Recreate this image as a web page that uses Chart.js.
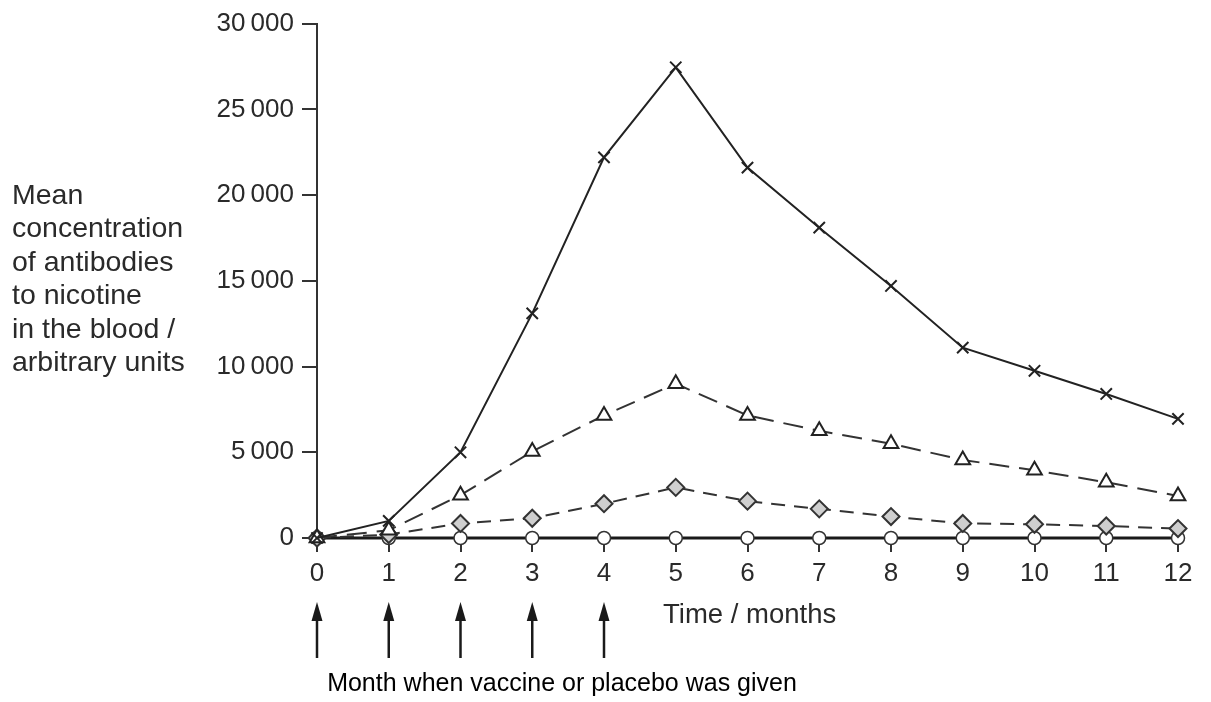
<!DOCTYPE html>
<html>
<head>
<meta charset="utf-8">
<script src="https://cdn.jsdelivr.net/npm/chart.js@4.4.0/dist/chart.umd.min.js"></script>
<style>
  html, body { margin: 0; padding: 0; background: #fff; }
  #wrap { width: 1211px; height: 702px; }
</style>
</head>
<body>
<div id="wrap"><canvas id="myChart" width="1211" height="702"></canvas></div>
<script>
var months = [0, 1, 2, 3, 4, 5, 6, 7, 8, 9, 10, 11, 12];
var crossValues = [0, 1000, 5000, 13100, 22200, 27450, 21600, 18100, 14700, 11100, 9750, 8400, 6950];
var triangleValues = [0, 450, 2500, 5050, 7150, 9000, 7150, 6250, 5500, 4550, 3950, 3250, 2450];
var diamondValues = [0, 200, 850, 1150, 2000, 2950, 2150, 1700, 1250, 850, 800, 700, 550];
var circleValues = [0, 0, 0, 0, 0, 0, 0, 0, 0, 0, 0, 0, 0];
var yTicks = [0, 5000, 10000, 15000, 20000, 25000, 30000];
var vaccineMonths = [0, 1, 2, 3, 4];
var yTitleLines = ['Mean', 'concentration', 'of antibodies', 'to nicotine', 'in the blood /', 'arbitrary units'];

function points(vals) {
    var out = [];
    for (var i = 0; i < months.length; i++) {
        out.push({x: months[i], y: vals[i]});
    }
    return out;
}

function fmt(v) {
    if (v < 1000) return String(v);
    var s = String(v);
    return s.slice(0, s.length - 3) + '\u2009' + s.slice(s.length - 3);
}

// arrows, axis titles and the caption under the chart
var extras = {
    id: 'extras',
    afterDraw: function (chart) {
        var ctx = chart.ctx;
        var xs = chart.scales.x;
        ctx.save();
        ctx.fillStyle = '#2a2a2a';
        ctx.font = '28.5px "Liberation Sans", Arial, sans-serif';
        ctx.textAlign = 'left';
        ctx.textBaseline = 'alphabetic';
        for (var i = 0; i < yTitleLines.length; i++) {
            ctx.fillText(yTitleLines[i], 12, 204 + i * 33.4);
        }

        ctx.font = '27.5px "Liberation Sans", Arial, sans-serif';
        ctx.textBaseline = 'middle';
        ctx.fillText('Time / months', 663, 615);

        ctx.fillStyle = '#000';
        ctx.font = '25px "Liberation Sans", Arial, sans-serif';
        ctx.textAlign = 'center';
        ctx.fillText('Month when vaccine or placebo was given', 562, 684);

        ctx.strokeStyle = '#1a1a1a';
        ctx.fillStyle = '#1a1a1a';
        ctx.lineWidth = 2.5;
        for (var j = 0; j < vaccineMonths.length; j++) {
            var px = xs.getPixelForValue(vaccineMonths[j]);
            ctx.beginPath();
            ctx.moveTo(px, 612);
            ctx.lineTo(px, 658);
            ctx.stroke();
            ctx.beginPath();
            ctx.moveTo(px, 602);
            ctx.lineTo(px - 5.5, 621);
            ctx.lineTo(px + 5.5, 621);
            ctx.closePath();
            ctx.fill();
        }
        ctx.restore();
    }
};

window.onload = function () {
    var ctx = document.getElementById('myChart').getContext('2d');
    var myChart = new Chart(ctx, {
        type: 'line',
        data: {
            datasets: [
                {
                    data: points(crossValues),
                    clip: false,
                    borderColor: '#222',
                    borderWidth: 2,
                    pointStyle: 'crossRot',
                    pointRadius: 8,
                    pointBorderColor: '#222',
                    pointBorderWidth: 2,
                    pointBackgroundColor: '#222'
                },
                {
                    data: points(triangleValues),
                    clip: false,
                    borderColor: '#333',
                    borderWidth: 2,
                    borderDash: [20, 10],
                    pointStyle: 'triangle',
                    pointRadius: 8.5,
                    pointBorderColor: '#222',
                    pointBorderWidth: 2,
                    pointBackgroundColor: '#fff'
                },
                {
                    data: points(diamondValues),
                    clip: false,
                    borderColor: '#333',
                    borderWidth: 2,
                    borderDash: [14, 9],
                    pointStyle: 'rectRot',
                    pointRadius: 8.5,
                    pointBorderColor: '#333',
                    pointBorderWidth: 2,
                    pointBackgroundColor: '#cfcfcf'
                },
                {
                    data: points(circleValues),
                    clip: false,
                    borderColor: '#1a1a1a',
                    borderWidth: 3,
                    pointStyle: 'circle',
                    pointRadius: 6.5,
                    pointBorderColor: '#333',
                    pointBorderWidth: 1.5,
                    pointBackgroundColor: '#fff'
                }
            ]
        },
        options: {
            responsive: false,
            animation: false,
            events: [],
            layout: {
                padding: {left: 0, right: 33, top: 21, bottom: 0}
            },
            plugins: {
                legend: {display: false},
                tooltip: {enabled: false}
            },
            scales: {
                x: {
                    type: 'linear',
                    min: 0,
                    max: 12,
                    afterFit: function (s) { s.height = 164; },
                    afterBuildTicks: function (s) {
                        s.ticks = months.map(function (m) { return {value: m}; });
                    },
                    border: {display: true, color: '#333', width: 2},
                    grid: {
                        drawOnChartArea: false,
                        drawTicks: true,
                        tickLength: 14,
                        color: '#333',
                        lineWidth: 2
                    },
                    ticks: {
                        color: '#2a2a2a',
                        padding: 6,
                        maxRotation: 0,
                        font: {family: '"Liberation Sans", Arial, sans-serif', size: 26}
                    }
                },
                y: {
                    min: 0,
                    max: 30000,
                    afterFit: function (s) { s.width = 317; },
                    afterBuildTicks: function (s) {
                        s.ticks = yTicks.map(function (v) { return {value: v}; });
                    },
                    border: {display: true, color: '#333', width: 2},
                    grid: {
                        drawOnChartArea: false,
                        drawTicks: true,
                        tickLength: 15,
                        color: '#333',
                        lineWidth: 2
                    },
                    ticks: {
                        color: '#2a2a2a',
                        padding: 8,
                        callback: function (v) { return fmt(v); },
                        font: {family: '"Liberation Sans", Arial, sans-serif', size: 26}
                    }
                }
            }
        },
        plugins: [extras]
    });
};
</script>
</body>
</html>
